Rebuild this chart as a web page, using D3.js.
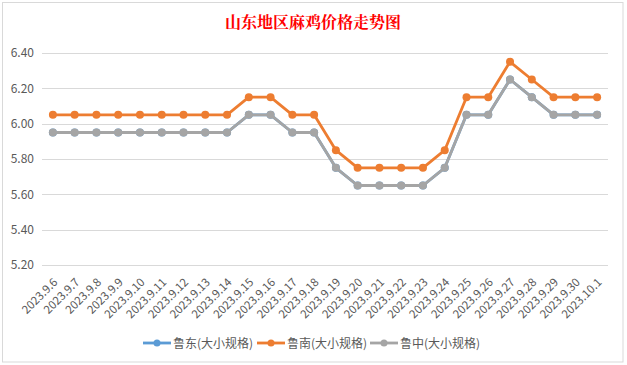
<!DOCTYPE html>
<html><head><meta charset="utf-8">
<script src="https://cdn.jsdelivr.net/npm/d3@7"></script>
<style>body{margin:0;background:#fff;}svg{display:block;}</style>
</head><body>
<svg id="c" width="627" height="365"></svg>
<script>
const categories = ["2023.9.6","2023.9.7","2023.9.8","2023.9.9","2023.9.10","2023.9.11","2023.9.12","2023.9.13","2023.9.14","2023.9.15","2023.9.16","2023.9.17","2023.9.18","2023.9.19","2023.9.20","2023.9.21","2023.9.22","2023.9.23","2023.9.24","2023.9.25","2023.9.26","2023.9.27","2023.9.28","2023.9.29","2023.9.30","2023.10.1"];
const ludong = [5.95,5.95,5.95,5.95,5.95,5.95,5.95,5.95,5.95,6.05,6.05,5.95,5.95,5.75,5.65,5.65,5.65,5.65,5.75,6.05,6.05,6.25,6.15,6.05,6.05,6.05];
const lunan  = [6.05,6.05,6.05,6.05,6.05,6.05,6.05,6.05,6.05,6.15,6.15,6.05,6.05,5.85,5.75,5.75,5.75,5.75,5.85,6.15,6.15,6.35,6.25,6.15,6.15,6.15];
const luzhong= [5.95,5.95,5.95,5.95,5.95,5.95,5.95,5.95,5.95,6.05,6.05,5.95,5.95,5.75,5.65,5.65,5.65,5.65,5.75,6.05,6.05,6.25,6.15,6.05,6.05,6.05];
const yTicks = [5.20,5.40,5.60,5.80,6.00,6.20,6.40];
const seriesNames = ["鲁东(大小规格)","鲁南(大小规格)","鲁中(大小规格)"];
const title = "山东地区麻鸡价格走势图";

const colors = ["#5B9BD5","#ED7D31","#A5A5A5"];
const svg = d3.select("#c");
const font = "'Microsoft YaHei','Noto Sans CJK SC','Noto Sans',sans-serif";

// chart frame
svg.append("rect").attr("x",2.5).attr("y",2.5).attr("width",620.5).attr("height",359.5)
  .attr("fill","#fff").attr("stroke","#d9d9d9").attr("stroke-width",1);

const x = d3.scalePoint().domain(categories).range([42,608]).padding(0.5);
const y = d3.scaleLinear().domain([5.2,6.4]).range([265,53]);

// gridlines
svg.append("g").selectAll("line").data(yTicks).join("line")
  .attr("x1",42).attr("x2",608)
  .attr("y1",d=>Math.round(y(d))+0.5).attr("y2",d=>Math.round(y(d))+0.5)
  .attr("stroke","#d9d9d9").attr("stroke-width",1);

// y axis labels
const yAxis = d3.axisLeft(y).tickValues(yTicks).tickFormat(d3.format(".2f")).tickSize(0).tickPadding(0);
const gy = svg.append("g").attr("transform","translate(34,0)").call(yAxis);
gy.select(".domain").remove();
gy.selectAll("text").attr("fill","#595959").style("font-size","12px").style("font-family",font);

// x axis labels
const xAxis = d3.axisBottom(x).tickSize(0).tickPadding(0);
const gx = svg.append("g").attr("transform","translate(0,268)").call(xAxis);
gx.select(".domain").remove();
gx.selectAll("text").attr("fill","#595959").style("font-size","11.5px").style("font-family",font)
  .attr("text-anchor","end").attr("dy","0")
  .attr("transform","translate(5,15) rotate(-45)");

// title
svg.append("text").attr("x",313).attr("y",28).attr("text-anchor","middle")
  .attr("fill","#FF0000").style("font-size","16px").style("font-weight","bold")
  .style("font-family","'Noto Serif CJK SC','SimSun','Noto Sans CJK SC',serif").text(title);

// series
const data = [ludong, lunan, luzhong];
const line = d3.line().x((d,i)=>x(categories[i])).y(d=>y(d));
data.forEach((vals,k)=>{
  const g = svg.append("g");
  g.append("path").datum(vals).attr("d",line).attr("fill","none")
    .attr("stroke",colors[k]).attr("stroke-width",2.8).attr("stroke-linejoin","round");
  g.selectAll("circle").data(vals).join("circle")
    .attr("cx",(d,i)=>x(categories[i])).attr("cy",d=>y(d)).attr("r",4)
    .attr("fill",colors[k]);
});

// legend
const legX = [143,257,370];
seriesNames.forEach((n,k)=>{
  const g = svg.append("g").attr("transform",`translate(${legX[k]},343)`);
  g.append("line").attr("x1",0).attr("x2",28).attr("y1",0).attr("y2",0)
    .attr("stroke",colors[k]).attr("stroke-width",2.8);
  g.append("circle").attr("cx",14).attr("cy",0).attr("r",3.5).attr("fill",colors[k]);
  g.append("text").attr("x",30).attr("y",4.5).attr("fill","#595959")
    .style("font-size","12px").style("font-family",font).text(n);
});
</script>
</body></html>
